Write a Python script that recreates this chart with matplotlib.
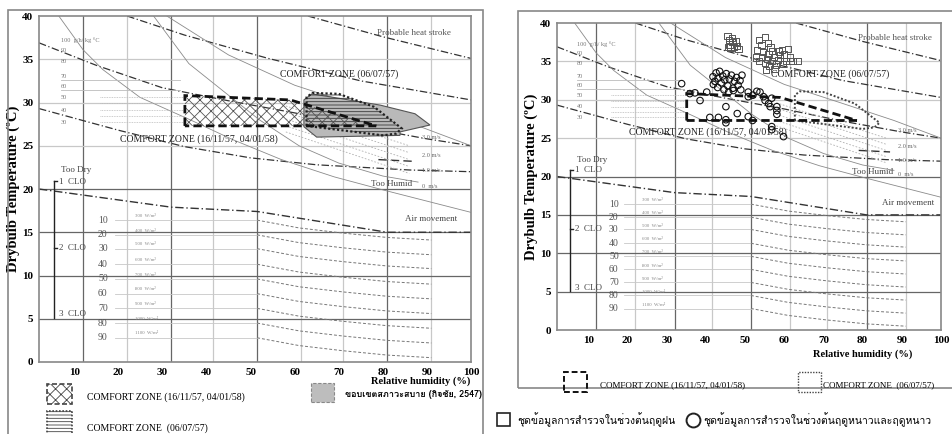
import matplotlib
matplotlib.use('Agg')
import matplotlib.pyplot as plt
from matplotlib.patches import Polygon, Rectangle
from matplotlib.lines import Line2D
from matplotlib import font_manager
from matplotlib.ft2font import FT2Font

# ---------------- data ----------------
x_ticks = [10, 20, 30, 40, 50, 60, 70, 80, 90, 100]
y_ticks = [0, 5, 10, 15, 20, 25, 30, 35, 40]
grid_x_dark = [12, 32, 51.5, 81]
grid_x_light = [22, 41.5, 61.5, 71, 91]
grid_y_dark = [5, 10, 15, 20]
grid_y_light = [25, 30, 35]

# dash-dot boundary lines
heat_x = [63, 80, 100]
heat_y = [40, 37.6, 35.1]
upper_x = [22, 35, 54, 75, 100]
upper_y = [40, 37.8, 35.1, 32.5, 30.3]
wind3_x = [2, 15, 30, 45, 60, 75, 90, 100]
wind3_y = [36.9, 34.3, 31.7, 30.2, 28.8, 27.2, 25.8, 25.0]
wind2_x = [79, 87]
wind2_y = [23.4, 23.2]
wind1_x = [2, 20, 35, 50, 65, 86, 100]
wind1_y = [29.3, 26.8, 24.9, 23.6, 22.8, 22.2, 22.0]
lower_x = [2, 32, 51.5, 81, 100]
lower_y = [20.0, 17.9, 17.4, 15.0, 15.0]

# thin solid curves
curve1_x = [6.5, 12, 16.5, 24.9, 36.3, 46, 57, 69, 80, 90, 100]
curve1_y = [40, 36.1, 33.8, 30.6, 28.0, 25.7, 23.4, 21.4, 19.9, 18.6, 17.3]
curve2_x = [28, 36, 44.6, 52, 61, 70, 80, 88]
curve2_y = [40, 34.5, 31.0, 28.0, 25.0, 23.0, 21.5, 20.8]
curve3_x = [31, 45, 60, 75, 88, 100]
curve3_y = [40, 35.5, 32.0, 29.5, 27.3, 25.0]

# evaporation scale (g/h/kg °C)
evap_labels = ['100  g/h/ kg °C', '90', '80', '70', '60', '50', '40', '30']
evap_y = [37.2, 36.0, 34.7, 33.0, 31.8, 30.6, 29.1, 27.7]
band_y = [30.6, 29.9, 29.1, 28.4, 27.7]

# radiation scale
rad_rows = ['10', '20', '30', '40', '50', '60', '70', '80', '90']
rad_y = [16.4, 14.7, 13.1, 11.3, 9.6, 7.9, 6.2, 4.5, 2.8]
rad_watts = ['300', '400', '500', '600', '700', '800', '900', '1000', '1100']
rad_drop_x = [51.5, 61, 71, 81, 91]
rad_drop = [0, 0.9, 1.5, 2.0, 2.3]

# fan of air movement lines
fan_y0 = [29.6, 28.9, 28.1, 27.3, 26.6]
fan_y1 = [25.0, 24.2, 23.4, 22.6, 21.8]

# comfort zones
zone_winter_x = [35.1, 35.1, 59, 78.5]
zone_winter_y = [27.3, 30.8, 30.3, 27.3]
zone_summer_x = [62.7, 62.7, 64, 70, 78, 84.3, 83, 80]
zone_summer_y = [27.3, 30.6, 31.1, 31.0, 29.5, 27.0, 26.4, 26.2]
zone_ref_x = [62.1, 62.1, 63.9, 68.7, 79.4, 87.3, 90.7, 83.9, 83.9, 65]
zone_ref_y = [27.2, 30.3, 31.0, 30.6, 29.7, 28.7, 27.4, 26.6, 26.2, 26.0]

# survey points (right chart)
rain_x = [45.5, 45.8, 46.0, 46.3, 46.8, 47.2, 47.6, 48.0, 48.3, 45.6, 46.6,
          53.5, 54.2, 55.0, 55.8, 56.5, 52.8, 53.6, 54.3, 55.0, 55.6, 56.2,
          56.8, 57.3, 57.9, 58.4, 58.9, 59.4, 59.9, 60.4, 60.9, 61.4, 62.1,
          63.4, 54.6, 56.0, 57.5, 55.3, 58.6, 59.6, 56.9, 53.0]
rain_y = [38.3, 37.8, 37.2, 36.8, 37.5, 36.9, 37.6, 37.0, 36.6, 36.9, 38.0,
          37.8, 37.1, 38.2, 37.4, 36.8, 35.5, 35.0, 35.6, 34.8, 35.3, 34.4,
          35.0, 35.6, 34.6, 35.2, 35.8, 36.5, 35.9, 35.1, 36.6, 35.5, 35.0,
          35.1, 36.2, 36.0, 34.0, 33.9, 36.3, 34.7, 36.4, 36.5]
winter_x = [41.8, 42.3, 42.6, 43.1, 43.5, 43.9, 44.3, 44.8, 45.2, 45.6, 46.0,
            46.5, 46.9, 47.3, 47.8, 48.2, 48.7, 49.2, 43.0, 44.6, 45.8, 47.0,
            41.9, 48.9, 33.8, 35.9, 37.2, 38.5, 40.2, 41.0, 43.2, 45.1, 45.1,
            45.1, 48.0, 50.8, 51.9, 50.8, 50.8, 53.0, 54.7, 55.1, 56.0, 56.8,
            56.4, 58.1, 58.1, 58.1, 52.0, 53.8, 56.8, 56.8, 59.8]
winter_y = [33.0, 32.4, 33.5, 32.8, 33.7, 32.2, 33.1, 32.6, 33.4, 31.8, 32.7,
            33.2, 31.5, 32.4, 32.9, 31.9, 32.5, 33.2, 31.6, 31.3, 31.0, 31.2,
            32.0, 31.3, 32.1, 30.8, 30.9, 29.9, 31.0, 27.7, 27.7, 27.4, 27.0,
            29.1, 28.2, 27.8, 27.3, 30.4, 31.0, 31.1, 30.4, 29.9, 29.5, 30.2,
            29.1, 29.1, 28.6, 28.1, 30.6, 31.0, 26.5, 26.1, 25.2]

# ---------------- fonts ----------------
def find_thai_font():
    for f in font_manager.fontManager.ttflist:
        try:
            if 0x0E01 in FT2Font(f.fname).get_charmap():
                return f.name
        except Exception:
            pass
    return 'DejaVu Sans'

thai_font = find_thai_font()
serif = ['Liberation Serif', 'DejaVu Serif']
plt.rcParams['font.family'] = serif
plt.rcParams['hatch.linewidth'] = 0.6


def draw_chart(ax):
    ax.set_xlim(2, 100)
    ax.set_ylim(0, 40)
    ax.set_xticks(x_ticks)
    ax.set_yticks(y_ticks)
    ax.tick_params(length=0, labelsize=8, pad=4)
    for lab in ax.get_xticklabels() + ax.get_yticklabels():
        lab.set_fontweight('bold')
    for s in ax.spines.values():
        s.set_color('#888888')
        s.set_linewidth(1.2)
    for gx in grid_x_dark:
        ax.axvline(gx, color='#666666', lw=0.9, zorder=0)
    for gx in grid_x_light:
        ax.axvline(gx, color='#c8c8c8', lw=0.9, zorder=0)
    for gy in grid_y_dark:
        ax.axhline(gy, color='#666666', lw=0.9, zorder=0)
    for gy in grid_y_light:
        ax.axhline(gy, color='#c8c8c8', lw=0.9, zorder=0)

    # boundary lines
    dd = (0, (6, 2, 1, 2))
    ax.plot(heat_x, heat_y, color='#333333', lw=0.9, ls=dd)
    ax.plot(upper_x, upper_y, color='#333333', lw=0.9, ls=dd)
    ax.plot(wind3_x, wind3_y, color='#333333', lw=0.9, ls=dd)
    ax.plot(wind2_x, wind2_y, color='#333333', lw=1.0, ls=(0, (6, 3)))
    ax.plot(wind1_x, wind1_y, color='#333333', lw=0.9, ls=dd)
    ax.plot(lower_x, lower_y, color='#333333', lw=1.0, ls=dd)
    for cx, cy in [(curve1_x, curve1_y), (curve2_x, curve2_y), (curve3_x, curve3_y)]:
        ax.plot(cx, cy, color='#8a8a8a', lw=0.6)

    # fan of air movement lines
    for y0, y1 in zip(fan_y0, fan_y1):
        ax.plot([58, 86], [y0, y1], color='#b0b0b0', lw=0.6, ls=(0, (2, 2)))

    # evaporation scale
    for lab, yy in zip(evap_labels, evap_y):
        ax.text(7.0, yy, lab, fontsize=4.5, color='#777777', va='center')
    ax.plot([7, 34], [evap_y[3] - 0.4] * 2, color='#bbbbbb', lw=0.6)
    ax.plot([7, 34], [evap_y[4] - 0.4] * 2, color='#bbbbbb', lw=0.6)
    for yy in band_y:
        ax.plot([15.8, 35], [yy, yy], color='#bbbbbb', lw=0.6, ls=(0, (1, 1)))

    # radiation scale
    for lab, w, yy in zip(rad_rows, rad_watts, rad_y):
        ax.text(16.5, yy, lab, fontsize=7, color='#555555', va='center', ha='center')
        ax.text(23.8, yy + 0.5, w + '  W/m²', fontsize=3.5, color='#888888', va='center')
        ax.plot([19.2, 51.5], [yy, yy], color='#c8c8c8', lw=0.6)
        ax.plot(rad_drop_x, [yy - d for d in rad_drop], color='#777777', lw=0.7,
                ls=(0, (3, 2)))

    # clothing scale
    ax.plot([5.4, 5.4], [5.1, 20.9], color='#222222', lw=1.0)
    ax.plot([5.4, 6.2], [20.9, 20.9], color='#222222', lw=1.0)
    ax.plot([5.4, 6.2], [13.2, 13.2], color='#222222', lw=1.0)
    ax.text(7.0, 22.2, 'Too Dry', fontsize=6.5, color='#444444', va='center')
    ax.text(6.5, 20.8, '1  CLO', fontsize=6.5, color='#444444', va='center')
    ax.text(6.5, 13.2, '2  CLO', fontsize=6.5, color='#444444', va='center')
    ax.text(6.5, 5.5, '3  CLO', fontsize=6.5, color='#444444', va='center')

    ax.text(78.7, 38.0, 'Probable heat stroke', fontsize=6.5, color='#555555', va='center')
    ax.text(77.3, 20.6, 'Too Humid', fontsize=6.5, color='#444444', va='center')
    ax.text(85.0, 16.5, 'Air movement', fontsize=6.5, color='#444444', va='center')
    for lab, yy in zip(['3.0 m/s', '2.0 m/s', '1.0 m/s', '0  m/s'], [26.0, 23.9, 22.1, 20.3]):
        ax.text(89.0, yy, lab, fontsize=4.5, color='#666666', va='center')

    ax.text(56.7, 33.3, 'COMFORT ZONE (06/07/57)', fontsize=7, color='#222222',
            va='center', zorder=6)
    ax.text(20.4, 25.8, 'COMFORT ZONE (16/11/57, 04/01/58)', fontsize=7,
            color='#222222', va='center', zorder=6)
    ax.set_ylabel('Drybulb Temperature (ºC)', fontsize=10.5, fontweight='bold', labelpad=2)


fig = plt.figure(figsize=(9.53, 4.34), dpi=100)
ax1 = fig.add_axes([0.0409, 0.1659, 0.4533, 0.7972])
ax2 = fig.add_axes([0.5845, 0.2396, 0.4029, 0.7074])
draw_chart(ax1)
draw_chart(ax2)

# ---- left chart: zones ----
ax1.add_patch(Polygon(list(zip(zone_ref_x, zone_ref_y)), closed=True, fc='#b9b9b9',
                      ec='#555555', lw=0.8, zorder=3))
ax1.add_patch(Polygon(list(zip(zone_summer_x, zone_summer_y)), closed=True, fc='none',
                      ec='#3a3a3a', hatch='-----', lw=0, zorder=4))
ax1.add_patch(Polygon(list(zip(zone_summer_x, zone_summer_y)), closed=True, fc='none',
                      ec='#222222', lw=1.6, ls=(0, (1, 1)), zorder=5))
ax1.add_patch(Polygon(list(zip(zone_winter_x, zone_winter_y)), closed=True, fc='none',
                      ec='#555555', hatch='xxx', lw=0, zorder=4))
ax1.add_patch(Polygon(list(zip(zone_winter_x, zone_winter_y)), closed=True, fc='none',
                      ec='#111111', lw=2.0, ls=(0, (3, 1.5)), zorder=5))

# ---- right chart: zones and survey points ----
ax2.add_patch(Polygon(list(zip(zone_summer_x, zone_summer_y)), closed=True, fc='none',
                      ec='#444444', lw=1.4, ls=(0, (1, 1)), zorder=5))
ax2.add_patch(Polygon(list(zip(zone_winter_x, zone_winter_y)), closed=True, fc='none',
                      ec='#111111', lw=2.0, ls=(0, (3, 1.5)), zorder=5))
ax2.scatter(rain_x, rain_y, marker='s', s=20, facecolors='none', edgecolors='#555555',
            linewidths=0.7, zorder=6)
ax2.scatter(winter_x, winter_y, marker='o', s=22, facecolors='none', edgecolors='#111111',
            linewidths=0.8, zorder=6)

# axis titles
fig.text(0.4418, 0.1221, 'Relative humidity (%)', fontsize=7.5, fontweight='bold', ha='center',
         va='center')
fig.text(0.9056, 0.1843, 'Relative humidity (%)', fontsize=7.5, fontweight='bold', ha='center',
         va='center')

# panel frames
fig.add_artist(Rectangle((0.0084, -0.05), 0.4984, 1.027, transform=fig.transFigure,
                         fc='none', ec='#888888', lw=1.2, clip_on=False))
fig.add_artist(Rectangle((0.5436, 0.106), 0.47, 0.869, transform=fig.transFigure,
                         fc='none', ec='#888888', lw=1.2, clip_on=False))

# ---- legend, left ----
fig.add_artist(Rectangle((0.0493, 0.069), 0.0262, 0.046, transform=fig.transFigure,
                         fc='white', ec='#444444', hatch='xxx', lw=1.2, ls=(0, (3, 1.5))))
fig.text(0.0913, 0.0853, 'COMFORT ZONE (16/11/57, 04/01/58)', fontsize=7, va='center')
fig.add_artist(Rectangle((0.0493, -0.01), 0.0262, 0.063, transform=fig.transFigure,
                         fc='white', ec='#444444', hatch='-----', lw=1.2, ls=(0, (1, 1))))
fig.text(0.0913, 0.0138, 'COMFORT ZONE  (06/07/57)', fontsize=7, va='center')
fig.add_artist(Rectangle((0.3263, 0.0737), 0.0241, 0.0438, transform=fig.transFigure,
                         fc='#bdbdbd', ec='#888888', lw=0.8, ls=(0, (3, 1.5))))
fig.text(0.362, 0.0899, 'ขอบเขตสภาวะสบาย (กิจชัย, 2547)', fontsize=6.5, va='center',
         fontweight='bold', family=[thai_font, 'DejaVu Sans'])

# ---- legend, right ----
fig.add_artist(Rectangle((0.5918, 0.0968), 0.0241, 0.0461, transform=fig.transFigure,
                         fc='none', ec='#111111', lw=1.4, ls=(0, (3, 1.5))))
fig.text(0.6296, 0.1129, 'COMFORT ZONE (16/11/57, 04/01/58)', fontsize=6.5, va='center')
fig.add_artist(Rectangle((0.8374, 0.0968), 0.0241, 0.0461, transform=fig.transFigure,
                         fc='none', ec='#444444', lw=1.0, ls=(0, (1, 1))))
fig.text(0.8636, 0.1129, 'COMFORT ZONE  (06/07/57)', fontsize=6.5, va='center')

fig.add_artist(Rectangle((0.5215, 0.0184), 0.0136, 0.03, transform=fig.transFigure,
                         fc='none', ec='#222222', lw=1.2))
fig.text(0.5425, 0.0323, 'ชุดข้อมูลการสำรวจในช่วงต้นฤดูฝน', fontsize=7.5, va='center',
         family=[thai_font, 'DejaVu Sans'])
fig.add_artist(Line2D([0.7272], [0.0323], marker='o', ms=10, mfc='none', mec='#222222',
                      mew=1.4, transform=fig.transFigure))
fig.text(0.7377, 0.0323, 'ชุดข้อมูลการสำรวจในช่วงต้นฤดูหนาวและฤดูหนาว', fontsize=7.5,
         va='center', family=[thai_font, 'DejaVu Sans'])

fig.savefig('out.png', dpi=100)
